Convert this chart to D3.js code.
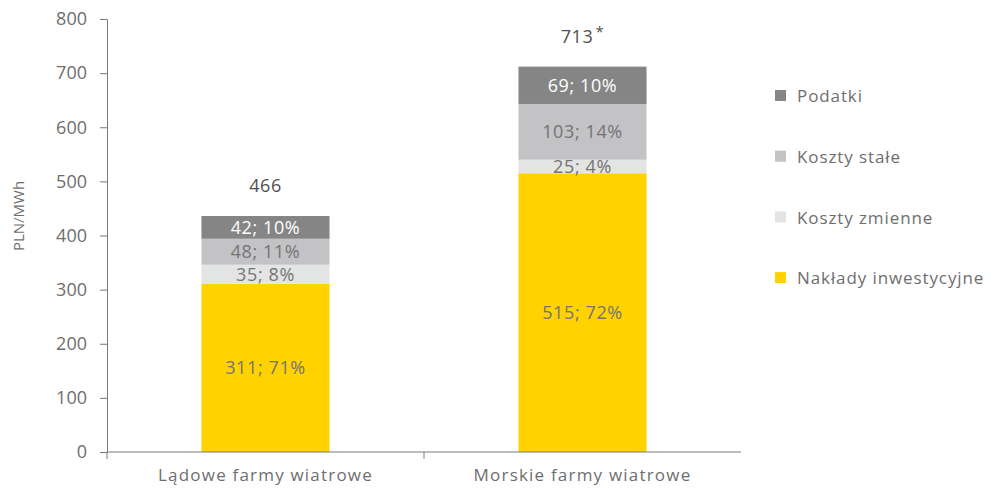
<!DOCTYPE html>
<html>
<head>
<meta charset="utf-8">
<script src="https://cdn.jsdelivr.net/npm/d3@7"></script>
<style>
  html, body { margin: 0; padding: 0; background: #fff; }
  svg { display: block; font-family: "Open Sans", "DejaVu Sans", sans-serif; }
</style>
</head>
<body>
<svg id="chart" width="995" height="488"></svg>
<script>
// Koszty energii wiatrowej, PLN/MWh
const categories = ["Lądowe farmy wiatrowe", "Morskie farmy wiatrowe"];
const seriesNames = ["Nakłady inwestycyjne", "Koszty zmienne", "Koszty stałe", "Podatki"];
const investment = [311, 515];
const variableCosts = [35, 25];
const fixedCosts = [48, 103];
const taxes = [42, 69];
const shares = [[71, 8, 11, 10], [72, 4, 14, 10]];
const totalLabels = ["466", "713"];
const totalMarks = ["", "*"];
const yTicks = [0, 100, 200, 300, 400, 500, 600, 700, 800];

const colors = ["#FFD200", "#E3E4E4", "#C3C3C6", "#858586"];
const labelColors = ["#747474", "#747474", "#747474", "#ffffff"];

const svg = d3.select("#chart");
const margin = { left: 107, right: 254, top: 19, bottom: 36 };
const width = 995, height = 488;

const x = d3.scaleBand()
  .domain(categories)
  .range([margin.left, width - margin.right])
  .paddingInner(0.596)
  .paddingOuter(0.298);

const y = d3.scaleLinear()
  .domain([0, 800])
  .range([height - margin.bottom, margin.top]);

const rows = categories.map((c, i) => ({
  category: c,
  [seriesNames[0]]: investment[i],
  [seriesNames[1]]: variableCosts[i],
  [seriesNames[2]]: fixedCosts[i],
  [seriesNames[3]]: taxes[i]
}));
const stacked = d3.stack().keys(seriesNames)(rows);

// bars
const layers = svg.append("g").selectAll("g")
  .data(stacked).join("g")
  .attr("fill", (d, i) => colors[i]);

layers.selectAll("rect")
  .data(d => d)
  .join("rect")
  .attr("x", d => x(d.data.category))
  .attr("width", x.bandwidth())
  .attr("y", d => y(d[1]))
  .attr("height", d => y(d[0]) - y(d[1]));

// segment labels
stacked.forEach((layer, si) => {
  svg.append("g").selectAll("text")
    .data(layer).join("text")
    .attr("x", d => x(d.data.category) + x.bandwidth() / 2)
    .attr("y", d => y((d[0] + d[1]) / 2))
    .attr("dy", "0.36em")
    .attr("text-anchor", "middle")
    .attr("font-size", 18)
    .attr("letter-spacing", 0.6)
    .attr("fill", labelColors[si])
    .text((d, ci) => `${d[1] - d[0]}; ${shares[ci][si]}%`);
});

// totals above bars
const totals = svg.append("g").selectAll("text")
  .data(rows).join("text")
  .attr("x", d => x(d.category) + x.bandwidth() / 2)
  .attr("y", (d, i) => y(stacked[3][i][1]) - 30)
  .attr("dy", "0.36em")
  .attr("text-anchor", "middle")
  .attr("font-size", 18)
  .attr("letter-spacing", 0.6)
  .attr("fill", "#505050");
totals.append("tspan").text((d, i) => totalLabels[i]);
totals.append("tspan")
  .attr("dx", 2).attr("dy", -6).attr("font-size", 15)
  .text((d, i) => totalMarks[i]);

// y axis
const yAxis = svg.append("g")
  .attr("transform", `translate(${margin.left},0)`)
  .call(d3.axisLeft(y).tickValues(yTicks).tickSize(7).tickSizeOuter(7).tickPadding(13));
yAxis.selectAll("text").attr("font-size", 18).attr("fill", "#6e6e6e").attr("font-family", "Open Sans, sans-serif");
yAxis.selectAll("line, path").attr("stroke", "#7a7a7a");

// x axis
const xAxis = svg.append("g")
  .attr("transform", `translate(0,${height - margin.bottom})`)
  .call(d3.axisBottom(x).tickSize(0).tickPadding(17));
xAxis.select(".domain").attr("stroke", "#7a7a7a").attr("d", `M${margin.left},0H${width - margin.right}`);
xAxis.selectAll("text").attr("font-size", 17).attr("letter-spacing", 1.2)
  .attr("fill", "#6e6e6e").attr("font-family", "Open Sans, sans-serif");
// category boundary ticks
const separators = [margin.left, (x(categories[0]) + x.bandwidth() + x(categories[1])) / 2];
xAxis.selectAll("line.sep").data(separators)
  .join("line").attr("class", "sep")
  .attr("x1", d => d).attr("x2", d => d).attr("y1", 0).attr("y2", 7)
  .attr("stroke", "#7a7a7a");

// y axis title
svg.append("text")
  .attr("transform", `translate(24,216) rotate(-90)`)
  .attr("text-anchor", "middle")
  .attr("font-size", 15)
  .attr("fill", "#6e6e6e")
  .text("PLN/MWh");

// legend (top to bottom: Podatki ... Nakłady inwestycyjne)
const legendItems = seriesNames.map((n, i) => ({ name: n, color: colors[i] })).reverse();
const legend = svg.append("g").attr("transform", "translate(775,96)");
const li = legend.selectAll("g").data(legendItems).join("g")
  .attr("transform", (d, i) => `translate(0,${i * 60.7})`);
li.append("rect").attr("x", 0).attr("y", -6).attr("width", 11).attr("height", 11).attr("fill", d => d.color);
li.append("text").attr("x", 22).attr("dy", "0.36em")
  .attr("font-size", 17).attr("letter-spacing", 0.9).attr("fill", "#6e6e6e")
  .text(d => d.name);
</script>
</body>
</html>
